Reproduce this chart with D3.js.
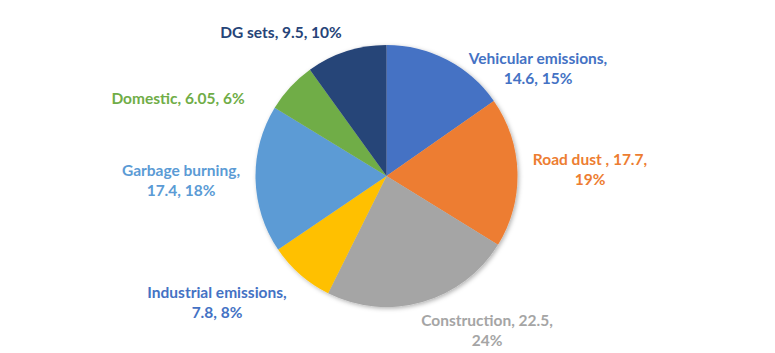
<!DOCTYPE html>
<html>
<head>
<meta charset="utf-8">
<script src="https://cdn.jsdelivr.net/npm/d3@7"></script>
<style>
  body { margin: 0; background: #fff; }
  svg { display: block; font-family: Lato, "Open Sans", sans-serif; }
</style>
</head>
<body>
<div id="chart"></div>
<script>
var canvasWidth = 775;
var canvasHeight = 353;

/*Chart data*/
var sources = ["Vehicular emissions", "Road dust ", "Construction", "Industrial emissions", "Garbage burning", "Domestic", "DG sets"];
var values = [14.6, 17.7, 22.5, 7.8, 17.4, 6.05, 9.5];
var percents = ["15%", "19%", "24%", "8%", "18%", "6%", "10%"];

/*Label layout: lines of each label*/
var labelLines = [
    ["Vehicular emissions,", "14.6, 15%"],
    ["Road dust , 17.7,", "19%"],
    ["Construction, 22.5,", "24%"],
    ["Industrial emissions,", "7.8, 8%"],
    ["Garbage burning,", "17.4, 18%"],
    ["Domestic, 6.05, 6%"],
    ["DG sets, 9.5, 10%"]
];
var labelPos = [[538, 69], [590, 170], [487, 331], [217, 303], [181, 181], [178, 99], [281, 33]];

var sliceColors = ['#4472c4', '#ed7d31', '#a5a5a5', '#ffc000', '#5b9bd5', '#70ad47', '#264478'];
var labelColors = ['#4472c4', '#ed7d31', '#a5a5a5', '#4472c4', '#5b9bd5', '#70ad47', '#264478'];

var cx = 386.5, cy = 176, radius = 131;

var svg = d3.select("#chart")
    .append("svg")
    .attr("width", canvasWidth)
    .attr("height", canvasHeight);

/*Soft shadow under the pie*/
var defs = svg.append("defs");
defs.append("filter")
    .attr("id", "shadow")
    .attr("x", "-20%").attr("y", "-20%")
    .attr("width", "140%").attr("height", "140%")
    .append("feDropShadow")
    .attr("dx", 1.5)
    .attr("dy", 1.5)
    .attr("stdDeviation", 2)
    .attr("flood-color", "#000")
    .attr("flood-opacity", 0.3);

var pie = d3.pie().sort(null).value(function(d) { return d; });
var arc = d3.arc().innerRadius(0).outerRadius(radius);
var color = d3.scaleOrdinal().domain(sources).range(sliceColors);
var labelColor = d3.scaleOrdinal().domain(sources).range(labelColors);

var container = svg.append("g")
    .attr("transform", "translate(" + cx + "," + cy + ")");

container.append("g")
    .attr("filter", "url(#shadow)")
    .selectAll("path")
    .data(pie(values))
    .join("path")
    .attr("d", arc)
    .attr("fill", function(d, i) { return color(sources[i]); });

/*Data labels*/
var labels = svg.append("g")
    .selectAll("text")
    .data(sources)
    .join("text")
    .attr("text-anchor", "middle")
    .attr("font-size", "15.5px")
    .attr("font-weight", "bold")
    .attr("fill", function(d) { return labelColor(d); })
    .attr("transform", function(d, i) { return "translate(" + labelPos[i][0] + "," + labelPos[i][1] + ")"; });

labels.each(function(d, i) {
    var lines = labelLines[i];
    var t = d3.select(this);
    lines.forEach(function(line, j) {
        t.append("tspan")
            .attr("x", 0)
            .attr("y", (j - (lines.length - 1) / 2) * 20)
            .attr("dy", "0.35em")
            .text(line);
    });
});
</script>
</body>
</html>
